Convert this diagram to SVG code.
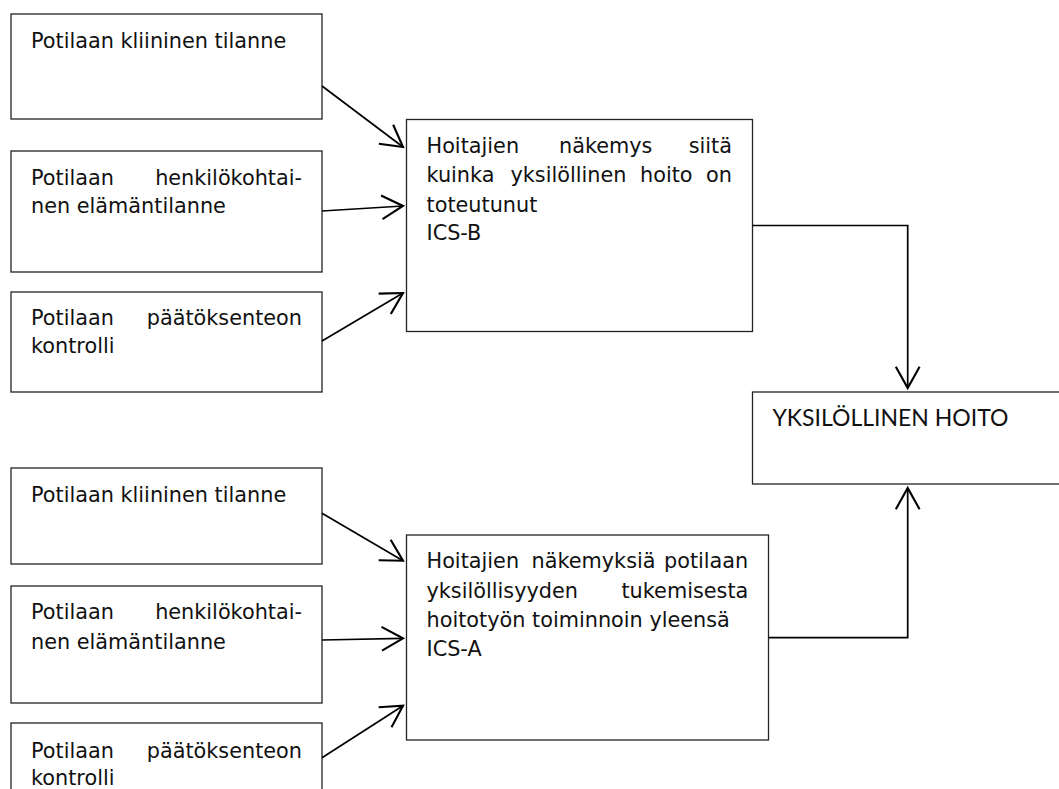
<svg xmlns="http://www.w3.org/2000/svg" width="1059" height="789" viewBox="0 0 1059 789">
<style>
.box{fill:#fff;stroke:#222;stroke-width:1.3}
.t{font-family:"DejaVu Sans",Tahoma,sans-serif;font-size:20.8px;fill:#111}
.t2{font-family:Lato,"Open Sans",sans-serif;font-size:23px;fill:#111}
.c{fill:none;stroke:#000;stroke-width:1.7}
</style>
<defs>
<marker id="a" markerUnits="userSpaceOnUse" markerWidth="30" markerHeight="30" viewBox="-20 -12 22 24" refX="0" refY="0" orient="auto" overflow="visible">
<path d="M-17,-9.5 L0,0 L-17,9.5" fill="none" stroke="#000" stroke-width="1.7"/>
</marker>
</defs>
<g id="n1"><rect class="box" x="11" y="14" width="311" height="105"/><text class="t" x="31" y="48">Potilaan kliininen tilanne</text></g>
<g id="n2"><rect class="box" x="11" y="151" width="311" height="121"/><text class="t" y="185"><tspan x="31">Potilaan</tspan><tspan x="302" text-anchor="end">henkilökohtai-</tspan></text><text class="t" x="31" y="213">nen elämäntilanne</text></g>
<g id="n3"><rect class="box" x="11" y="292" width="311" height="100"/><text class="t" y="325"><tspan x="31">Potilaan</tspan><tspan x="302" text-anchor="end">päätöksenteon</tspan></text><text class="t" x="31" y="353">kontrolli</text></g>
<g id="nB"><rect class="box" x="406.5" y="119.5" width="346" height="212"/>
<text class="t" y="153"><tspan x="426.5">Hoitajien</tspan><tspan x="559">näkemys</tspan><tspan x="732" text-anchor="end">siitä</tspan></text>
<text class="t" y="182"><tspan x="426.5">kuinka</tspan><tspan x="510.5">yksilöllinen</tspan><tspan x="640">hoito</tspan><tspan x="732" text-anchor="end">on</tspan></text>
<text class="t" x="426.5" y="211.5">toteutunut</text>
<text class="t" x="426.5" y="240">ICS-B</text></g>
<g id="nY"><rect class="box" x="752.5" y="392" width="320" height="92"/><text class="t2" x="772.5" y="425.5">YKSILÖLLINEN HOITO</text></g>
<g id="n4"><rect class="box" x="11" y="468" width="311" height="96"/><text class="t" x="31" y="501.5">Potilaan kliininen tilanne</text></g>
<g id="n5"><rect class="box" x="11" y="586" width="311" height="117"/><text class="t" y="619.3"><tspan x="31">Potilaan</tspan><tspan x="302" text-anchor="end">henkilökohtai-</tspan></text><text class="t" x="31" y="649">nen elämäntilanne</text></g>
<g id="n6"><rect class="box" x="11" y="723" width="311" height="90"/><text class="t" y="758"><tspan x="31">Potilaan</tspan><tspan x="302" text-anchor="end">päätöksenteon</tspan></text><text class="t" x="31" y="785">kontrolli</text></g>
<g id="nA"><rect class="box" x="406.5" y="535" width="362" height="205"/>
<text class="t" y="568.3"><tspan x="426.5">Hoitajien</tspan><tspan x="531.5">näkemyksiä</tspan><tspan x="748.3" text-anchor="end">potilaan</tspan></text>
<text class="t" y="597.7"><tspan x="426.5">yksilöllisyyden</tspan><tspan x="748.3" text-anchor="end">tukemisesta</tspan></text>
<text class="t" x="426.5" y="626.7">hoitotyön toiminnoin yleensä</text>
<text class="t" x="426.5" y="656">ICS-A</text></g>
<g id="connectors">
<line class="c" x1="322" y1="86" x2="403" y2="147" marker-end="url(#a)"/>
<line class="c" x1="322" y1="211" x2="403" y2="206" marker-end="url(#a)"/>
<line class="c" x1="322" y1="341" x2="403" y2="293" marker-end="url(#a)"/>
<line class="c" x1="322" y1="513.3" x2="403" y2="560.7" marker-end="url(#a)"/>
<line class="c" x1="322" y1="640" x2="403" y2="638.3" marker-end="url(#a)"/>
<line class="c" x1="322" y1="757.7" x2="403" y2="705.7" marker-end="url(#a)"/>
<polyline class="c" points="752.5,225.5 907.7,225.5 907.7,388" marker-end="url(#a)"/>
<polyline class="c" points="768.5,637.7 907.7,637.7 907.7,488" marker-end="url(#a)"/>
</g>
</svg>
